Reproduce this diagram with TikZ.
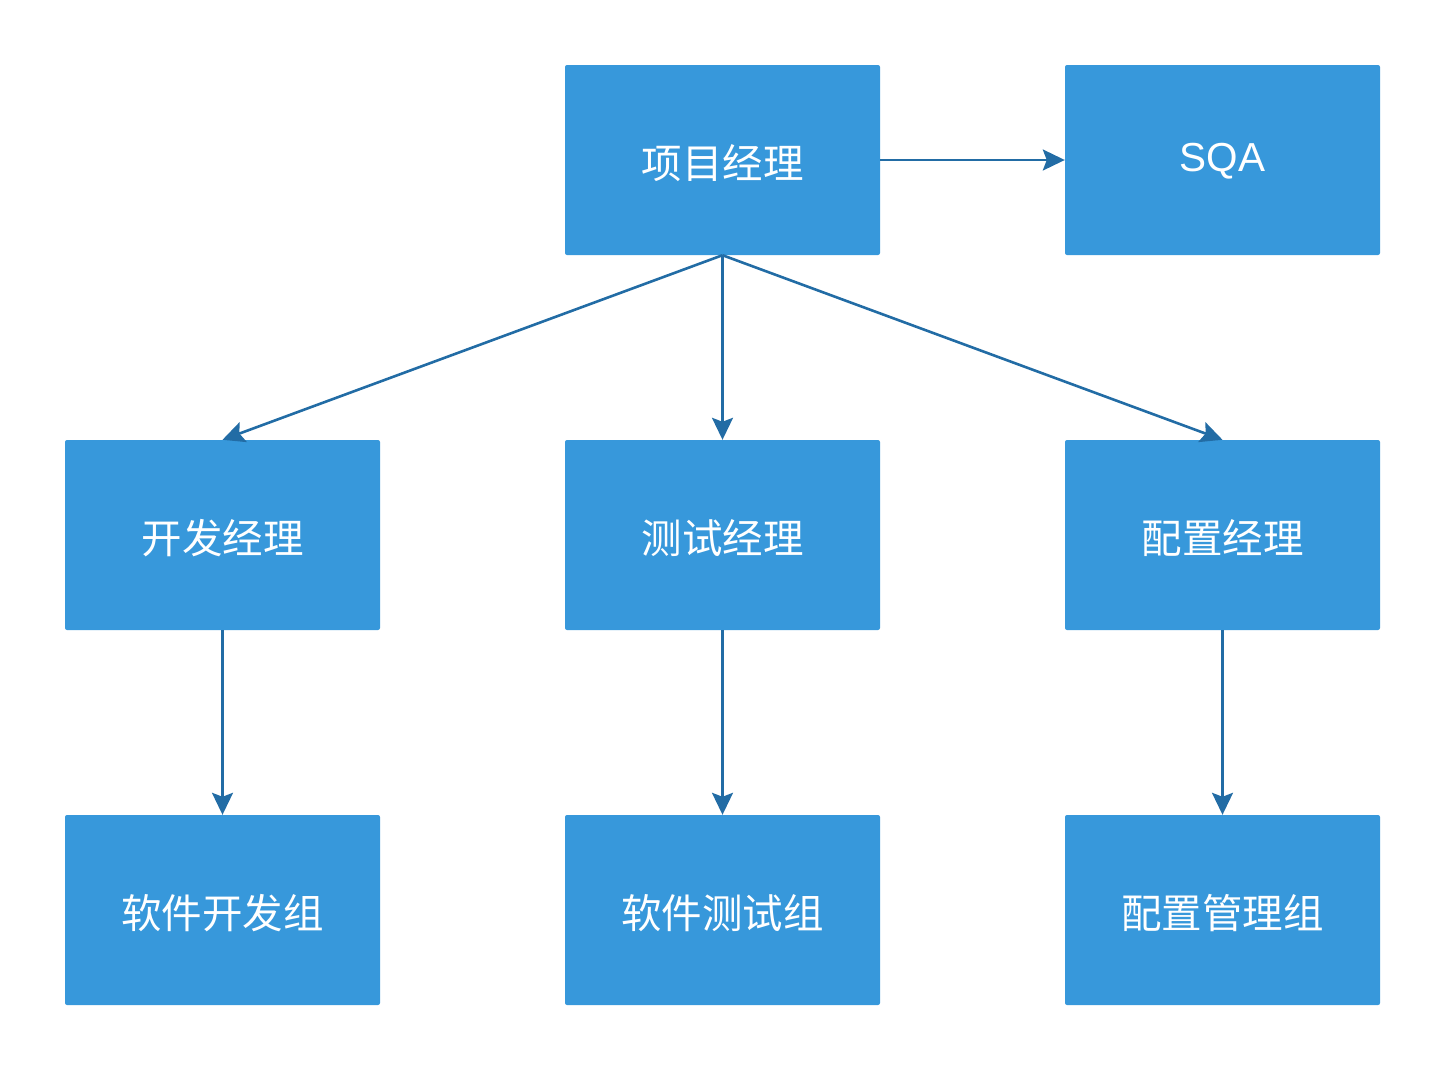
\documentclass[tikz,border=0pt]{standalone}
\usepackage{fontspec}
\newfontfamily\cjk{Noto Sans CJK SC}
\setmainfont{Liberation Sans}
\usetikzlibrary{arrows.meta}
\definecolor{boxblue}{HTML}{3798DB}
\definecolor{arrowblue}{HTML}{226CA5}
\begin{document}
\begin{tikzpicture}[x=1pt,y=-1pt,
  box/.style={draw=none,fill=boxblue,rounded corners=2pt,minimum width=315pt,minimum height=190pt,inner sep=0pt,text=white,font=\fontsize{40.5}{42}\selectfont\cjk},
  lbl/.style={text=white,inner sep=0pt,font=\fontsize{40.5}{42}\selectfont\cjk},
  conn/.style={draw=arrowblue,line width=2.6pt,-{Stealth[length=22pt,width=21pt,inset=4pt]}}]
\useasboundingbox (0,0) rectangle (1444,1069);
\node[box] (pm) at (722.5,160) {};
\node[box] (sqa) at (1222.5,160) {};
\node[box] (dev) at (222.5,535) {};
\node[box] (test) at (722.5,535) {};
\node[box] (cfg) at (1222.5,535) {};
\node[box] (devg) at (222.5,910) {};
\node[box] (testg) at (722.5,910) {};
\node[box] (cfgg) at (1222.5,910) {};
\node[lbl] (pmt) at ([yshift=-3pt]pm.center) {项目经理};
\node[lbl,font=\fontsize{40.5}{42}\selectfont] (sqat) at ([yshift=-1pt]sqa.center) {SQA};
\node[lbl] (devt) at ([yshift=-3pt]dev.center) {开发经理};
\node[lbl] (testt) at ([yshift=-3pt]test.center) {测试经理};
\node[lbl] (cfgt) at ([yshift=-3pt]cfg.center) {配置经理};
\node[lbl] (devgt) at ([yshift=-3pt]devg.center) {软件开发组};
\node[lbl] (testgt) at ([yshift=-3pt]testg.center) {软件测试组};
\node[lbl] (cfggt) at ([yshift=-3pt]cfgg.center) {配置管理组};
\draw[conn] (pm.east) -- (sqa.west);
\draw[conn] (pm.south) -- (dev.north);
\draw[conn] (pm.south) -- (test.north);
\draw[conn] (pm.south) -- (cfg.north);
\draw[conn] (dev.south) -- (devg.north);
\draw[conn] (test.south) -- (testg.north);
\draw[conn] (cfg.south) -- (cfgg.north);
\end{tikzpicture}
\end{document}
